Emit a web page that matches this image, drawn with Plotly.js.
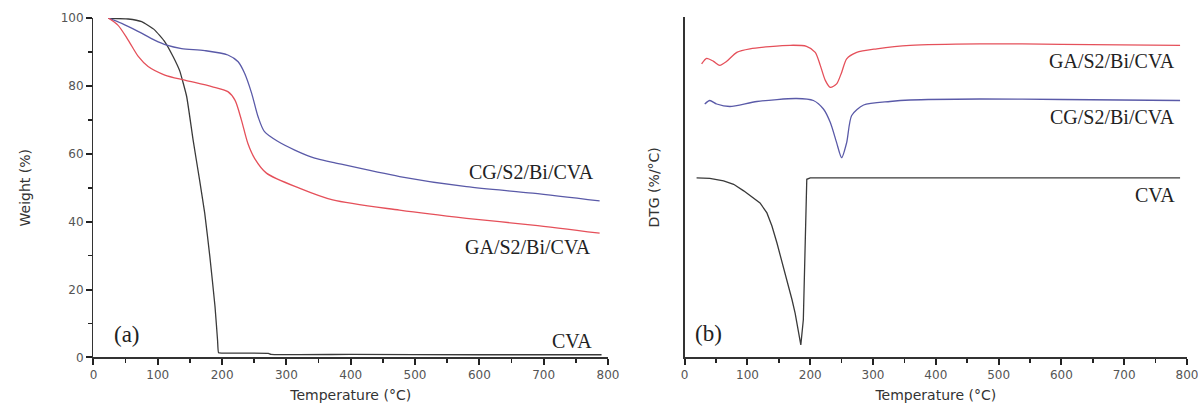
<!DOCTYPE html>
<html><head><meta charset="utf-8">
<script src="https://cdn.plot.ly/plotly-3.0.1.min.js"></script>
<style>html,body{margin:0;padding:0;background:#fff;}#chart{width:1198px;height:409px;}</style>
</head><body><div id="chart"></div>
<script>
// (a) TGA weight (%) vs temperature (°C)
const cvaT = [23, 54, 75, 95, 111, 124, 134, 145, 155, 165, 173, 181, 189, 193, 194.5, 200, 230, 272, 276, 400, 600, 790];
const cvaW = [99.9, 99.7, 98.9, 96.5, 93, 88.6, 84.5, 76.8, 64, 52.3, 42.5, 29.7, 15, 5, 1.4, 1.3, 1.3, 1.2, 0.9, 0.9, 0.8, 0.8];
const cgT = [23, 44, 70, 95, 114, 137, 173, 209, 225, 235, 246, 256, 266, 287, 313, 344, 372, 476, 580, 683, 787];
const cgW = [100, 98.4, 96, 93.5, 92, 91, 90.4, 89.1, 87.1, 83.7, 77.8, 70.9, 66.5, 63.6, 61.1, 58.7, 57.5, 53.3, 50.3, 48.4, 46.1];
const gaT = [23, 38, 54, 70, 85, 111, 142, 184, 209, 220, 230, 240, 251, 269, 321, 372, 476, 580, 683, 787];
const gaW = [100, 97.9, 93.5, 88.6, 85.7, 83.2, 81.7, 79.8, 78.3, 75.8, 70, 63.1, 58.5, 54.3, 49.8, 46.4, 43.4, 41, 39, 36.6];
// (b) DTG (arbitrary offset units, no scale shown) vs temperature (°C)
const dGaT = [27, 35, 46, 56, 67, 83, 104, 168, 194, 208, 216, 224, 232, 242, 250, 258, 274, 306, 359, 470, 600, 789];
const dGaY = [29.25, 29.8, 29.5, 29.1, 29.5, 30.4, 30.75, 31.1, 31.0, 30.4, 29.1, 27.6, 26.9, 27.25, 28.4, 29.75, 30.4, 30.75, 31.1, 31.25, 31.2, 31.1];
const dCgT = [32, 40, 51, 72, 115, 178, 205, 221, 232, 242, 250, 258, 266, 285, 327, 359, 470, 600, 789];
const dCgY = [25.25, 25.6, 25.25, 25.0, 25.5, 25.8, 25.6, 24.75, 23.4, 21.4, 19.9, 21.4, 24.1, 25.15, 25.5, 25.65, 25.75, 25.7, 25.6];
const dCvaT = [19, 40, 62, 78, 94, 109, 120, 131, 139, 147, 155, 163, 171, 176, 181, 185, 189, 192, 194.5, 200, 789];
const dCvaY = [17.9, 17.85, 17.6, 17.25, 16.6, 15.9, 15.4, 14.4, 13.1, 11.4, 9.6, 7.75, 5.75, 4.4, 2.75, 1.25, 3.75, 12.1, 17.75, 17.9, 17.9];

const RED = '#e5505a', BLUE = '#5a5aa8', BLACK = '#3a3a3a';
const line = (c, s) => ({color: c, width: 1.3, shape: 'spline', smoothing: s});
const traces = [
  {x: cvaT, y: cvaW, mode: 'lines', line: line(BLACK, 0.4), xaxis: 'x', yaxis: 'y'},
  {x: cgT, y: cgW, mode: 'lines', line: line(BLUE, 0.8), xaxis: 'x', yaxis: 'y'},
  {x: gaT, y: gaW, mode: 'lines', line: line(RED, 0.8), xaxis: 'x', yaxis: 'y'},
  {x: dGaT, y: dGaY, mode: 'lines', line: line(RED, 0.7), xaxis: 'x2', yaxis: 'y2'},
  {x: dCgT, y: dCgY, mode: 'lines', line: line(BLUE, 0.7), xaxis: 'x2', yaxis: 'y2'},
  {x: dCvaT, y: dCvaY, mode: 'lines', line: {color: BLACK, width: 1.3}, xaxis: 'x2', yaxis: 'y2'}
];
const tickFont = {family: 'DejaVu Sans, Arial, sans-serif', size: 12, color: '#555'};
const titleFont = {family: 'DejaVu Sans, Arial, sans-serif', size: 14, color: '#333'};
const xax = (dom) => ({
  domain: dom, range: [0, 800], showgrid: false, zeroline: false, showline: true,
  linecolor: '#333', linewidth: 1.5, ticks: 'outside', ticklen: 6, tickwidth: 2, tickcolor: '#222',
  dtick: 100, tick0: 0, tickfont: tickFont, ticklabeloverflow: 'allow',
  minor: {ticks: 'outside', ticklen: 4, dtick: 50, tickcolor: '#222', tickwidth: 1.6, showgrid: false},
  title: {text: 'Temperature (°C)', font: titleFont, standoff: 9}
});
const serif = (s) => ({family: 'Liberation Serif, Times New Roman, serif', size: s, color: '#222'});
const ann = (xr, yr, x, y, t, anchor, s) => ({xref: xr, yref: yr, x: x, y: y, text: t, showarrow: false, xanchor: anchor, yanchor: 'middle', font: serif(s)});
const layout = {
  width: 1198, height: 409, margin: {l: 0, r: 0, t: 0, b: 0},
  paper_bgcolor: '#fff', plot_bgcolor: '#fff', showlegend: false,
  xaxis: xax([0.078, 0.5075]),
  yaxis: {domain: [0.126, 0.956], range: [0, 100], showgrid: false, zeroline: false, showline: true,
    linecolor: '#333', linewidth: 1.5, ticks: 'outside', ticklen: 6, tickwidth: 2, tickcolor: '#222',
    dtick: 20, tick0: 0, tickfont: tickFont,
    minor: {ticks: 'outside', ticklen: 4, dtick: 10, tickcolor: '#222', tickwidth: 1.6, showgrid: false},
    title: {text: 'Weight (%)', font: titleFont, standoff: 26}},
  xaxis2: Object.assign(xax([0.5715, 0.9908]), {anchor: 'y2'}),
  yaxis2: {domain: [0.126, 0.958], range: [0, 33.9], anchor: 'x2', showgrid: false, zeroline: false, showline: true,
    linecolor: '#333', linewidth: 1.5, ticks: '', showticklabels: false,
    title: {text: 'DTG (%/°C)', font: titleFont, standoff: 20}},
  annotations: [
    ann('x', 'y', 782, 54.6, 'CG/S2/Bi/CVA', 'right', 20),
    ann('x', 'y', 776, 32.5, 'GA/S2/Bi/CVA', 'right', 20),
    ann('x', 'y', 779, 4.9, 'CVA', 'right', 20),
    ann('x', 'y', 29, 6.9, '(a)', 'left', 23),
    ann('x2', 'y2', 784, 29.5, 'GA/S2/Bi/CVA', 'right', 20),
    ann('x2', 'y2', 784, 24.0, 'CG/S2/Bi/CVA', 'right', 20),
    ann('x2', 'y2', 784, 16.2, 'CVA', 'right', 20),
    ann('x2', 'y2', 13, 2.4, '(b)', 'left', 23)
  ]
};
Plotly.newPlot('chart', traces, layout, {displayModeBar: false, staticPlot: true});
</script></body></html>
